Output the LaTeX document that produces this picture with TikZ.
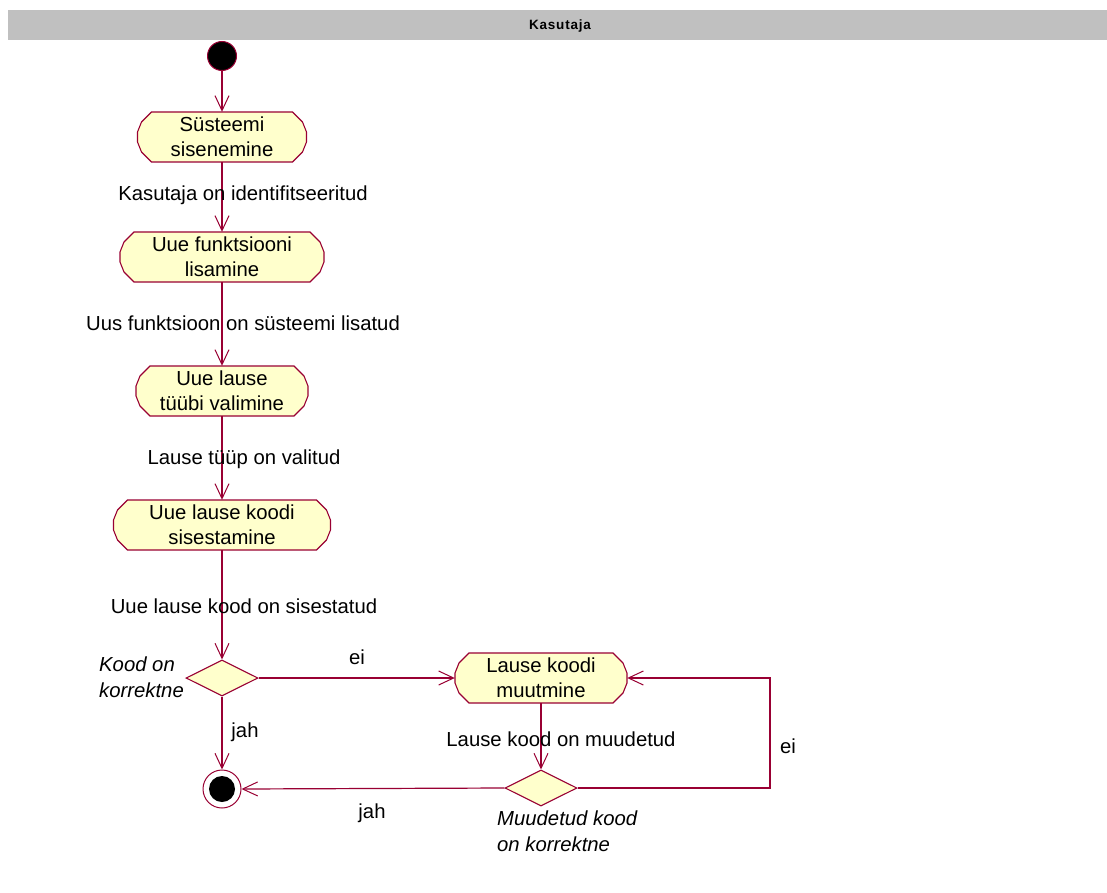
\documentclass[tikz,border=0pt]{standalone}
\usepackage{fontspec}
\setmainfont{Liberation Sans}
\newfontfamily\lanefont[LetterSpace=6]{Liberation Sans}
\usetikzlibrary{shapes.geometric,arrows.meta}
\definecolor{umlline}{HTML}{990033}
\definecolor{umlfill}{HTML}{FFFFCC}
\definecolor{lanegray}{HTML}{C0C0C0}
\tikzset{
  flow/.style={draw=umlline, line width=1.2pt, -{Straight Barb[length=15pt,width=14pt,line width=1pt]}},
  acttext/.style={inner sep=0pt, minimum height=50pt, align=center, font=\fontsize{20.3}{25}\selectfont},
  actshape/.style={draw=umlline, fill=umlfill, line width=1.1pt},
  decision/.style={diamond, draw=umlline, fill=umlfill, line width=1.1pt, inner sep=0pt, minimum width=72pt, minimum height=36pt},
  lbl/.style={inner sep=0pt, font=\fontsize{20.3}{25}\selectfont},
  guard/.style={inner sep=0pt, align=left, font=\fontsize{20.3}{26}\selectfont\itshape}
}
% action state: name, centre x, centre y, half width, text
\newcommand\actstate[5]{%
  \filldraw[actshape] ({#2-#4+14},{#3-25}) -- ({#2+#4-14},{#3-25}) -- ({#2+#4-4},{#3-15})
    -- ({#2+#4},{#3-5}) -- ({#2+#4},{#3+5}) -- ({#2+#4-4},{#3+15}) -- ({#2+#4-14},{#3+25})
    -- ({#2-#4+14},{#3+25}) -- ({#2-#4+4},{#3+15}) -- ({#2-#4},{#3+5}) -- ({#2-#4},{#3-5})
    -- ({#2-#4+4},{#3-15}) -- cycle;
  \node[acttext, minimum width={2*#4}] (#1) at (#2,#3) {#5};%
}
\begin{document}
\begin{tikzpicture}[x=1pt,y=-1pt]
\useasboundingbox (0,0) rectangle (1107,893);
\fill[white] (0,0) rectangle (1107,893);
% swimlane header
\fill[lanegray] (8,10) rectangle (1107,40);
\node[inner sep=0pt, font=\fontsize{13.5}{15}\lanefont\bfseries] (lane) at (560,26) {Kasutaja};

% initial state
\node[circle, fill=black, draw=umlline, line width=1pt, minimum size=29pt, inner sep=0pt] (start) at (222,56) {};

% action states
\actstate{s1}{222}{137}{84.5}{Süsteemi\\sisenemine}
\actstate{s2}{222}{257}{102}{Uue funktsiooni\\lisamine}
\actstate{s3}{222}{391}{86}{Uue lause\\tüübi valimine}
\actstate{s4}{222}{525}{108.5}{Uue lause koodi\\sisestamine}
\actstate{s5}{541}{678}{86}{Lause koodi\\muutmine}

% decisions
\node[decision] (d1) at (222,678) {};
\node[decision] (d2) at (541,788) {};

% final state
\node[circle, draw=umlline, fill=white, line width=1pt, minimum size=38pt, inner sep=0pt] (stop) at (222,789) {};
\fill[black] (stop.center) circle (13pt);

% transitions
\draw[flow] (start.south) -- (s1.north);
\draw[flow] (s1.south) -- (s2.north);
\draw[flow] (s2.south) -- (s3.north);
\draw[flow] (s3.south) -- (s4.north);
\draw[flow] (s4.south) -- (d1.north);
\draw[flow] (d1.east) -- (s5.west);
\draw[flow] (d1.south) -- (stop.north);
\draw[flow] (s5.south) -- (d2.north);
\coordinate (loopa) at (770,788);
\coordinate (loopb) at (770,678);
\draw[flow] (d2.east) -- (loopa) -- (loopb) -- (s5.east);
\draw[flow] (d2.west) -- (stop.east);

% transition labels
\node[lbl] (t1) at (243,195) {Kasutaja on identifitseeritud};
\node[lbl] (t2) at (243,323) {Uus funktsioon on süsteemi lisatud};
\node[lbl] (t3) at (244,459) {Lause tüüp on valitud};
\node[lbl] (t4) at (244,606) {Uue lause kood on sisestatud};
\node[lbl] (t5) at (357,657) {ei};
\node[lbl] (t6) at (245,732) {jah};
\node[lbl] (t7) at (561,739) {Lause kood on muudetud};
\node[lbl] (t8) at (788,746) {ei};
\node[lbl] (t9) at (372,813) {jah};

% guard conditions
\node[guard, anchor=west] (g1) at (99,677) {Kood on\\korrektne};
\node[guard, anchor=west] (g2) at (497,831) {Muudetud kood\\on korrektne};
\end{tikzpicture}
\end{document}
